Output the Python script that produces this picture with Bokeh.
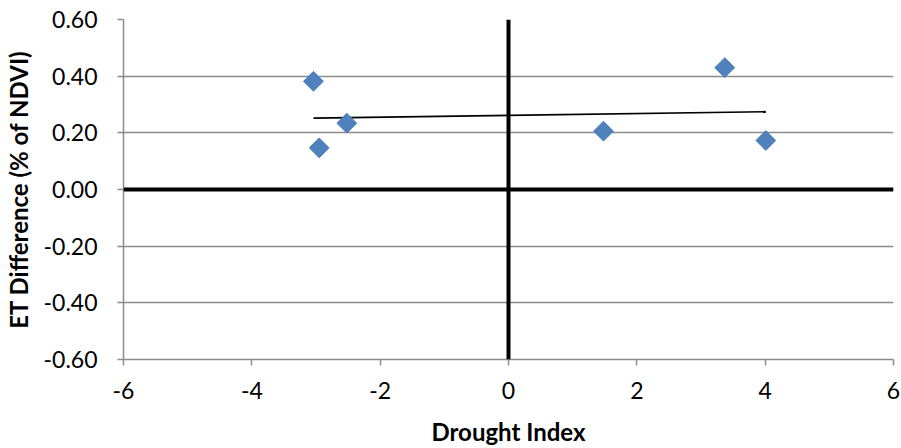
import numpy as np
from bokeh.plotting import figure
from bokeh.models import Span, FixedTicker, NumeralTickFormatter, Range1d
from bokeh.embed import file_html
from bokeh.resources import INLINE

# Data
drought_index = [-3.04, -2.95, -2.52, 1.48, 3.37, 4.01]
et_difference = [0.382, 0.147, 0.234, 0.206, 0.430, 0.173]
x_ticks = [-6, -4, -2, 0, 2, 4, 6]
y_ticks = [-0.6, -0.4, -0.2, 0.0, 0.2, 0.4, 0.6]

FONT = "Lato"

p = figure(width=901, height=448, output_backend="svg", toolbar_location=None,
           x_range=Range1d(-6, 6), y_range=Range1d(-0.6, 0.6),
           min_border_left=123, min_border_right=8, min_border_top=19,
           min_border_bottom=89)
p.outline_line_color = None
p.background_fill_color = "white"
p.border_fill_color = "white"

# Grid
p.xgrid.grid_line_color = None
p.ygrid.ticker = FixedTicker(ticks=y_ticks)
p.ygrid.grid_line_color = "#8c8c8c"
p.ygrid.grid_line_width = 1.5

for ax in (p.xaxis[0], p.yaxis[0]):
    ax.axis_line_color = "#8c8c8c"
    ax.axis_line_width = 1.5
    ax.major_tick_line_color = "#8c8c8c"
    ax.major_tick_line_width = 1.5
    ax.major_tick_out = 6
    ax.major_tick_in = 0
    ax.minor_tick_line_color = None
    ax.major_label_text_font = FONT
    ax.major_label_text_font_size = "23px"
    ax.major_label_text_color = "black"
    ax.axis_label_text_font = FONT
    ax.axis_label_text_font_size = "24px"
    ax.axis_label_text_font_style = "bold"
    ax.axis_label_text_color = "black"

p.xaxis.ticker = FixedTicker(ticks=x_ticks)
p.xaxis.formatter = NumeralTickFormatter(format="0")
p.yaxis.ticker = FixedTicker(ticks=y_ticks)
p.yaxis.formatter = NumeralTickFormatter(format="0.00")
p.xaxis.axis_label = "Drought Index"
p.yaxis.axis_label = "ET Difference (% of NDVI)"
p.xaxis.major_label_standoff = 16
p.yaxis.major_label_standoff = 20
p.xaxis.axis_label_standoff = 15
p.yaxis.axis_label_standoff = 8

# Thick zero lines
p.add_layout(Span(location=0, dimension="width", line_color="black", line_width=4))
p.add_layout(Span(location=0, dimension="height", line_color="black", line_width=4))

# Linear trendline
xs = np.array(drought_index)
ys = np.array(et_difference)
slope, intercept = np.polyfit(xs, ys, 1)
tx = [xs.min(), xs.max()]
ty = [slope * v + intercept for v in tx]
p.line(tx, ty, line_color="black", line_width=1.7)

# Points
p.scatter(drought_index, et_difference, marker="square", angle=np.pi / 4, size=14,
          fill_color="#4f81bd", line_color="#4a7ebb", line_width=1)

open("out.html", "w").write(file_html(p, INLINE))
